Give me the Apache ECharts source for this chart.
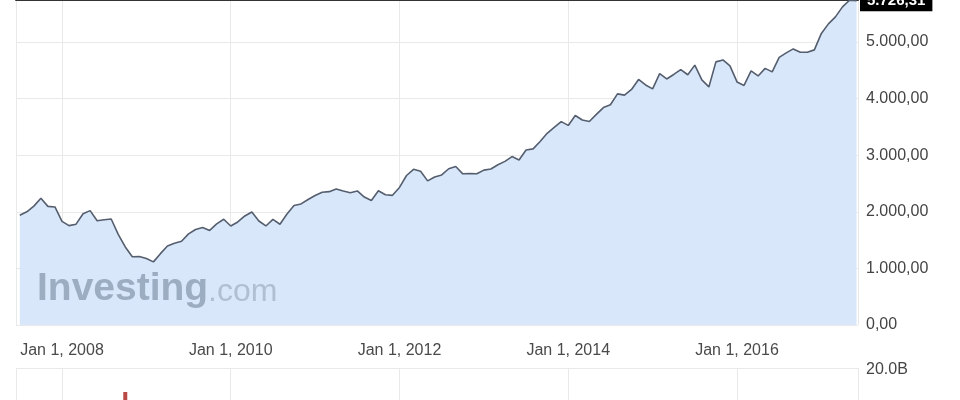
<!DOCTYPE html>
<html>
<head>
<meta charset="utf-8">
<script src="https://cdn.jsdelivr.net/npm/echarts@6/dist/echarts.min.js"></script>
<style>
html,body{margin:0;padding:0;background:#fff;}
#c{width:960px;height:400px;}
</style>
</head>
<body>
<div id="c"></div>
<script>
// ---- data (monthly closes, first month = July 2007) ----
const firstMonth = '2007-07';
const closes = [
  1940, 2000, 2100, 2238, 2095, 2085,
  1830, 1755, 1781, 1965, 2020, 1840, 1860, 1872, 1600, 1378, 1205, 1211,
  1175, 1115, 1260, 1395, 1445, 1480, 1610, 1687, 1723, 1670, 1785, 1868,
  1749, 1820, 1926, 1996, 1837, 1749, 1864, 1779, 1961, 2111, 2138, 2217,
  2288, 2345, 2355, 2403, 2367, 2337, 2367, 2260, 2200, 2370, 2300, 2290,
  2430, 2640, 2750, 2717, 2545, 2615, 2650, 2760, 2799, 2670, 2675, 2670,
  2735, 2755, 2830, 2890, 2975, 2915, 3090, 3110, 3240, 3385, 3490, 3592,
  3525, 3700, 3620, 3595, 3720, 3840, 3890, 4082, 4060, 4160, 4337, 4240,
  4170, 4440, 4345, 4425, 4510, 4420, 4590, 4329, 4205, 4647, 4682, 4576,
  4293, 4231, 4488, 4399, 4532, 4470, 4726, 4806, 4876, 4818, 4818, 4859,
  5150, 5318, 5442, 5618, 5735, 5726.31
];
const lastValue = 5726.31;
const volumeMonths = ['2008-10'];
const volumeValues = [5.0e9];
const xTickPrefix = 'Jan 1, ';

// ---- helpers ----
function monthList(start, n) {
  const [y0, m0] = start.split('-').map(Number);
  const out = [];
  for (let i = 0; i < n; i++) {
    const t = y0 * 12 + (m0 - 1) + i;
    out.push(Math.floor(t / 12) + '-' + String(t % 12 + 1).padStart(2, '0'));
  }
  return out;
}
function toYear(s) { const [y, m] = s.split('-').map(Number); return y + (m - 1) / 12; }
function fmt(v) {
  const parts = Number(v).toFixed(2).split('.');
  parts[0] = parts[0].replace(/\B(?=(\d{3})+(?!\d))/g, '.');
  return parts[0] + ',' + parts[1];
}
const months = monthList(firstMonth, closes.length);
const xMin = 2007.455, xMax = 2017.434;
const FONT = '"Liberation Sans", Arial, sans-serif';
const gridColor = '#e9e9e9';

const chart = echarts.init(document.getElementById('c'));
chart.setOption({
  animation: false,
  backgroundColor: '#fff',
  grid: [
    {left: 16, right: 102, top: 0, height: 325, outerBoundsMode: 'none'},
    {left: 16, right: 102, top: 368, bottom: 0, outerBoundsMode: 'none'}
  ],
  xAxis: [
    {type: 'value', gridIndex: 0, min: xMin, max: xMax, splitNumber: 5,
     axisLine: {show: false}, axisTick: {show: false},
     axisLabel: {formatter: v => xTickPrefix + Math.round(v), showMinLabel: false, showMaxLabel: false,
                 margin: 18, fontSize: 16, color: '#4a4a4a', fontFamily: FONT},
     splitLine: {show: true, lineStyle: {color: gridColor, width: 1}}},
    {type: 'value', gridIndex: 0, position: 'top', min: xMin, max: xMax,
     axisLine: {show: true, lineStyle: {color: '#333', width: 2}},
     axisTick: {show: false}, axisLabel: {show: false}, splitLine: {show: false}},
    {type: 'value', gridIndex: 1, min: xMin, max: xMax, splitNumber: 5,
     axisLine: {show: false}, axisTick: {show: false}, axisLabel: {show: false},
     splitLine: {show: true, lineStyle: {color: gridColor, width: 1}}}
  ],
  yAxis: [
    {type: 'value', gridIndex: 0, position: 'right', min: 0, max: 5740, interval: 1000,
     axisLine: {show: false}, axisTick: {show: false},
     axisLabel: {formatter: fmt, margin: 8, fontSize: 16, color: '#444', fontFamily: FONT, showMaxLabel: false},
     splitLine: {show: true, lineStyle: {color: gridColor, width: 1}}},
    {type: 'value', gridIndex: 1, position: 'right', min: 0, max: 20e9, interval: 20e9,
     axisLine: {show: false}, axisTick: {show: false},
     axisLabel: {formatter: v => (v / 1e9).toFixed(1) + 'B', margin: 8, fontSize: 16, color: '#444',
                 fontFamily: FONT, showMinLabel: false, verticalAlign: 'top', padding: [-6, 0, 0, 0]},
     splitLine: {show: true, lineStyle: {color: gridColor, width: 1}}}
  ],
  graphic: [
    {type: 'text', left: 37, top: 270, z: 100, silent: true,
     style: {text: 'Investing', font: 'bold 39px ' + FONT, fill: '#9cadc2'}},
    {type: 'text', left: 208, top: 276, z: 100, silent: true,
     style: {text: '.com', font: '32px ' + FONT, fill: '#b0bfd1'}}
  ],
  series: [
    {type: 'line', xAxisIndex: 0, yAxisIndex: 0,
     data: months.map((m, i) => [toYear(m), closes[i]]),
     symbol: 'none', smooth: false,
     lineStyle: {color: '#555e6e', width: 1.6},
     areaStyle: {color: '#d8e8fa', opacity: 1},
     markLine: {silent: true, symbol: 'none',
       lineStyle: {color: 'rgba(0,0,0,0)', width: 0},
       data: [{yAxis: lastValue}],
       label: {show: true, position: 'end', distance: 2, formatter: () => fmt(lastValue),
               backgroundColor: '#000', color: '#fff', fontWeight: 'bold', fontSize: 15,
               fontFamily: FONT, padding: [3, 7], opacity: 1}}
    },
    {type: 'bar', xAxisIndex: 2, yAxisIndex: 1,
     data: volumeMonths.map((m, i) => [toYear(m), volumeValues[i]]),
     barWidth: 4, itemStyle: {color: '#b94a48'}}
  ]
});
</script>
</body>
</html>
